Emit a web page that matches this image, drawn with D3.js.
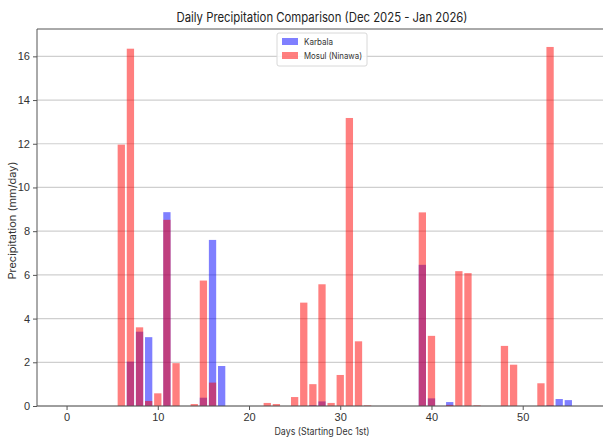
<!DOCTYPE html>
<html>
<head>
<meta charset="utf-8">
<script src="https://cdn.jsdelivr.net/npm/d3@7"></script>
<style>
  html, body { margin: 0; padding: 0; background: #fff; }
  svg { display: block; font-family: Inter, "Open Sans", sans-serif; }
</style>
</head>
<body>
<svg id="chart" width="603" height="438"></svg>
<script>
// ---- data ----
const days = d3.range(0, 57);
const karbalaDays   = [7, 8, 9, 11, 15, 16, 17, 27, 28, 39, 40, 42, 53, 54, 55];
const karbalaValues = [2.03, 3.40, 3.15, 8.87, 0.38, 7.60, 1.83, 0.04, 0.21, 6.46, 0.35, 0.18, 0.03, 0.32, 0.27];
const mosulDays   = [6, 7, 8, 9, 10, 11, 12, 14, 15, 16, 22, 23, 25, 26, 27, 28, 29, 30, 31, 32, 33, 39, 40, 42, 43, 44, 45, 48, 49, 52, 53];
const mosulValues = [11.96, 16.35, 3.60, 0.23, 0.58, 8.52, 1.96, 0.09, 5.74, 1.07, 0.14, 0.09, 0.41, 4.73, 1.00, 5.57, 0.14, 1.42, 13.18, 2.96, 0.03, 8.86, 3.21, 0.05, 6.17, 6.08, 0.03, 2.75, 1.89, 1.04, 16.43];
const xTicks = [0, 10, 20, 30, 40, 50];
const yTicks = [0, 2, 4, 6, 8, 10, 12, 14, 16];
const seriesNames = ["Karbala", "Mosul (Ninawa)"];
const seriesColors = ["blue", "red"];

function fullSeries(ds, vs) {
  const m = new Map(ds.map((d, i) => [d, vs[i]]));
  return days.map(d => ({ day: d, value: m.has(d) ? m.get(d) : 0 }));
}
const series = [fullSeries(karbalaDays, karbalaValues), fullSeries(mosulDays, mosulValues)];

// ---- layout ----
const pL = 37, pR = 607, pT = 29, pB = 406;
const barW = 0.8;
const allMax = d3.max(series.flat(), d => d.value);
const xLo = days[0] - barW / 2, xHi = days[days.length - 1] + barW / 2;
const xPad = (xHi - xLo) * 0.05;
const x = d3.scaleLinear().domain([xLo - xPad, xHi + xPad]).range([pL, pR]);
const y = d3.scaleLinear().domain([0, allMax * 1.05]).range([pB, pT]);

const svg = d3.select("#chart");
const textColor = "#333";
const spineColor = "#555";

// grid
svg.append("g").selectAll("line").data(yTicks).join("line")
  .attr("x1", pL).attr("x2", pR)
  .attr("y1", d => y(d)).attr("y2", d => y(d))
  .attr("stroke", "#cfcfcf").attr("stroke-width", 1.2);

// bars
series.forEach((s, i) => {
  svg.append("g").selectAll("rect").data(s.filter(d => d.value > 0)).join("rect")
    .attr("x", d => x(d.day - barW / 2))
    .attr("width", d => x(d.day + barW / 2) - x(d.day - barW / 2))
    .attr("y", d => y(d.value))
    .attr("height", d => y(0) - y(d.value))
    .attr("fill", seriesColors[i])
    .attr("fill-opacity", 0.5);
});

// axes
const xAxis = svg.append("g").attr("transform", `translate(0,${pB})`)
  .call(d3.axisBottom(x).tickValues(xTicks).tickSize(4).tickPadding(3));
const yAxis = svg.append("g").attr("transform", `translate(${pL},0)`)
  .call(d3.axisLeft(y).tickValues(yTicks).tickSize(4).tickPadding(3));
[xAxis, yAxis].forEach(a => {
  a.select(".domain").remove();
  a.selectAll("line").attr("stroke", spineColor);
  a.selectAll("text").attr("fill", textColor).style("font-size", "11px");
});

// spines
svg.append("line").attr("x1", pL).attr("x2", pR).attr("y1", pB).attr("y2", pB)
  .attr("stroke", spineColor).attr("stroke-width", 1);
svg.append("line").attr("x1", pL).attr("x2", pR).attr("y1", pT).attr("y2", pT)
  .attr("stroke", spineColor).attr("stroke-width", 1);
svg.append("line").attr("x1", pL).attr("x2", pL).attr("y1", pT).attr("y2", pB)
  .attr("stroke", spineColor).attr("stroke-width", 1);

// title & labels
const cx = (pL + pR) / 2;
svg.append("text").attr("x", cx).attr("y", 22).attr("text-anchor", "middle")
  .attr("fill", "#222").style("font-size", "13px")
  .attr("textLength", 291).attr("lengthAdjust", "spacingAndGlyphs")
  .text("Daily Precipitation Comparison (Dec 2025 - Jan 2026)");
svg.append("text").attr("x", cx).attr("y", 434.5).attr("text-anchor", "middle")
  .attr("fill", textColor).style("font-size", "10px")
  .attr("textLength", 95).attr("lengthAdjust", "spacingAndGlyphs")
  .text("Days (Starting Dec 1st)");
svg.append("text").attr("transform", `translate(16,${(pT + pB) / 2 + 3}) rotate(-90)`)
  .attr("text-anchor", "middle").attr("fill", textColor).style("font-size", "10.5px")
  .attr("textLength", 118).attr("lengthAdjust", "spacingAndGlyphs")
  .text("Precipitation (mm/day)");

// legend
const lg = svg.append("g").attr("transform", "translate(277,33)");
lg.append("rect").attr("width", 90).attr("height", 33).attr("rx", 2)
  .attr("fill", "#fff").attr("fill-opacity", 0.85).attr("stroke", "#d8d8d8");
const legendLens = [29, 58];
seriesNames.forEach((n, i) => {
  lg.append("rect").attr("x", 5).attr("y", 5 + i * 14).attr("width", 16).attr("height", 7)
    .attr("fill", seriesColors[i]).attr("fill-opacity", 0.5);
  lg.append("text").attr("x", 27).attr("y", 12 + i * 14).attr("fill", textColor)
    .style("font-size", "9px")
    .attr("textLength", legendLens[i]).attr("lengthAdjust", "spacingAndGlyphs")
    .text(n);
});
</script>
</body>
</html>
